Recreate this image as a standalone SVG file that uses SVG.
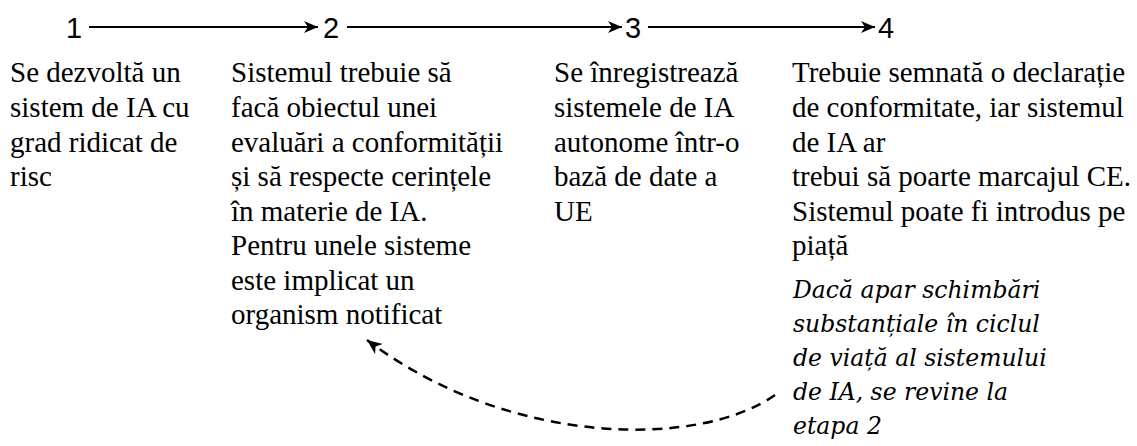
<svg xmlns="http://www.w3.org/2000/svg" width="1137" height="446" viewBox="0 0 1137 446">
<style>
.num{font-family:'Liberation Sans',Arial,sans-serif;font-size:29px;fill:#000;text-anchor:middle}
.body{font-family:'Liberation Serif','Times New Roman',serif;font-size:29px;fill:#000}
.note{font-family:'DejaVu Serif',serif;font-size:23.5px;font-style:italic;fill:#000}
.ln{stroke:#000;stroke-width:2;fill:none}
.dash{stroke:#000;stroke-width:2.5;fill:none;stroke-dasharray:10 7}
</style>
<defs>
<marker id="ah" viewBox="0 0 14 12" refX="14" refY="6" markerWidth="14" markerHeight="12" markerUnits="userSpaceOnUse" orient="auto">
<path d="M0,0 L14,6 L0,12 L4,6 Z" fill="#000"/>
</marker>
<marker id="ah2" viewBox="0 0 14 12" refX="14" refY="6" markerWidth="15" markerHeight="13" markerUnits="userSpaceOnUse" orient="auto">
<path d="M0,0 L14,6 L0,12 L4,6 Z" fill="#000"/>
</marker>
</defs>
<rect width="1137" height="446" fill="#fff"/>
<g id="connectors">
<line class="ln" x1="89" y1="27" x2="318" y2="27" marker-end="url(#ah)"/>
<line class="ln" x1="347" y1="27" x2="622" y2="27" marker-end="url(#ah)"/>
<line class="ln" x1="648" y1="27" x2="875" y2="27" marker-end="url(#ah)"/>
<path class="dash" d="M775,395 C700,448 510,448 367,340" marker-end="url(#ah2)"/>
</g>
<g id="step1">
<text class="num" x="74" y="38">1</text>
<text class="body" x="10" y="82">Se dezvoltă un</text>
<text class="body" x="10" y="117">sistem de IA cu</text>
<text class="body" x="10" y="152">grad ridicat de</text>
<text class="body" x="10" y="186">risc</text>
</g>
<g id="step2">
<text class="num" x="331" y="38">2</text>
<text class="body" x="231" y="82">Sistemul trebuie să</text>
<text class="body" x="231" y="117">facă obiectul unei</text>
<text class="body" x="231" y="152">evaluări a conformității</text>
<text class="body" x="231" y="186">și să respecte cerințele</text>
<text class="body" x="231" y="221">în materie de IA.</text>
<text class="body" x="231" y="255">Pentru unele sisteme</text>
<text class="body" x="231" y="290">este implicat un</text>
<text class="body" x="231" y="324">organism notificat</text>
</g>
<g id="step3">
<text class="num" x="633" y="38">3</text>
<text class="body" x="554" y="82">Se înregistrează</text>
<text class="body" x="554" y="117">sistemele de IA</text>
<text class="body" x="554" y="152">autonome într-o</text>
<text class="body" x="554" y="186">bază de date a</text>
<text class="body" x="554" y="221">UE</text>
</g>
<g id="step4">
<text class="num" x="886" y="38">4</text>
<text class="body" x="792" y="82">Trebuie semnată o declarație</text>
<text class="body" x="792" y="117">de conformitate, iar sistemul</text>
<text class="body" x="792" y="152">de IA ar</text>
<text class="body" x="792" y="186">trebui să poarte marcajul CE.</text>
<text class="body" x="792" y="221">Sistemul poate fi introdus pe</text>
<text class="body" x="792" y="255">piață</text>
</g>
<g id="feedback-note">
<text class="note" x="793" y="298">Dacă apar schimbări</text>
<text class="note" x="793" y="332">substanțiale în ciclul</text>
<text class="note" x="793" y="366">de viață al sistemului</text>
<text class="note" x="793" y="400">de IA, se revine la</text>
<text class="note" x="793" y="434">etapa 2</text>
</g>
</svg>
